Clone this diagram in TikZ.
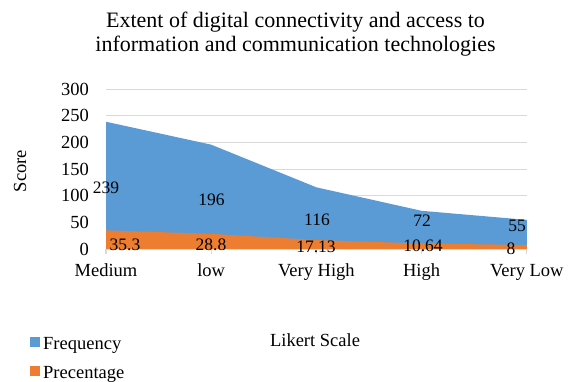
\documentclass[tikz,border=0pt]{standalone}
\usepackage{fontspec}
\setmainfont{Liberation Serif}
\definecolor{freqblue}{RGB}{91, 155, 213}
\definecolor{pctorange}{RGB}{237, 125, 49}
\definecolor{gridgray}{RGB}{217, 217, 217}
\usetikzlibrary{positioning}

\begin{document}
\begin{tikzpicture}[x=1pt, y=-1pt,
  titletext/.style={font=\fontsize{22}{24}\selectfont, align=center, inner sep=0pt},
  axislabel/.style={font=\fontsize{18.5}{20}\selectfont, inner sep=0pt},
  ticklabel/.style={font=\fontsize{18.5}{20}\selectfont, inner sep=0pt},
  datalabel/.style={font=\fontsize{17.5}{18}\selectfont, inner sep=0pt},
  gridline/.style={draw=gridgray, line width=1.1pt},
  legendbox/.style={minimum size=10pt, inner sep=0pt}
]
  \useasboundingbox (0,0) rectangle (570,382);

  % Title
  \node[titletext, anchor=north] (title) at (295.5, 11.5)
    {Extent of digital connectivity and access to\\information and communication technologies};

  % Plot area: one unit = one category, y in scores
  \begin{scope}[shift={(106,249.2)}, x=105.2pt, y=0.5333pt]
    \foreach \v in {50,100,...,300}
      \draw[gridline] (0,\v) -- (4,\v);
    \foreach \v in {0,50,...,300}
      \node[ticklabel, anchor=east, xshift=-17pt] (ytick\v) at (0,\v) {\v};

    \fill[freqblue] (0,0) -- (0,239) -- (1,196) -- (2,116) -- (3,72) -- (4,55) -- (4,0) -- cycle;
    \fill[pctorange] (0,0) -- (0,35.3) -- (1,28.8) -- (2,17.13) -- (3,10.64) -- (4,8) -- (4,0) -- cycle;

    \draw[gridline] (0,0) -- (4,0);
    \foreach \i in {0,...,4}
      \draw[gridline] (\i,0) -- ++(0,-9);

    \node[ticklabel, anchor=base] (cat0) at (0,-52) {Medium};
    \node[ticklabel, anchor=base] (cat1) at (1,-52) {low};
    \node[ticklabel, anchor=base] (cat2) at (2,-52) {Very High};
    \node[ticklabel, anchor=base] (cat3) at (3,-52) {High};
    \node[ticklabel, anchor=base] (cat4) at (4,-52) {Very Low};
  \end{scope}

  % Data labels
  \node[datalabel] (f1) at (106, 188) {239};
  \node[datalabel] (f2) at (211.5, 200) {196};
  \node[datalabel] (f3) at (317, 220) {116};
  \node[datalabel] (f4) at (422, 221) {72};
  \node[datalabel] (f5) at (517, 226) {55};

  \node[datalabel] (p1) at (125, 245) {35.3};
  \node[datalabel] (p2) at (211, 245) {28.8};
  \node[datalabel] (p3) at (316, 247) {17.13};
  \node[datalabel] (p4) at (423, 246) {10.64};
  \node[datalabel] (p5) at (511, 248.5) {8};

  % Axis titles
  \node[axislabel, rotate=90] (ytitle) at (20, 171) {Score};
  \node[axislabel, anchor=base] (xtitle) at (315, 346) {Likert Scale};

  % Legend
  \node[legendbox, fill=freqblue] (legf) at (35, 341.7) {};
  \node[axislabel, anchor=base west] (legftext) at (43, 349) {Frequency};
  \node[legendbox, fill=pctorange] (legp) at (35, 371) {};
  \node[axislabel, anchor=base west] (legptext) at (43, 378) {Precentage};
\end{tikzpicture}
\end{document}
